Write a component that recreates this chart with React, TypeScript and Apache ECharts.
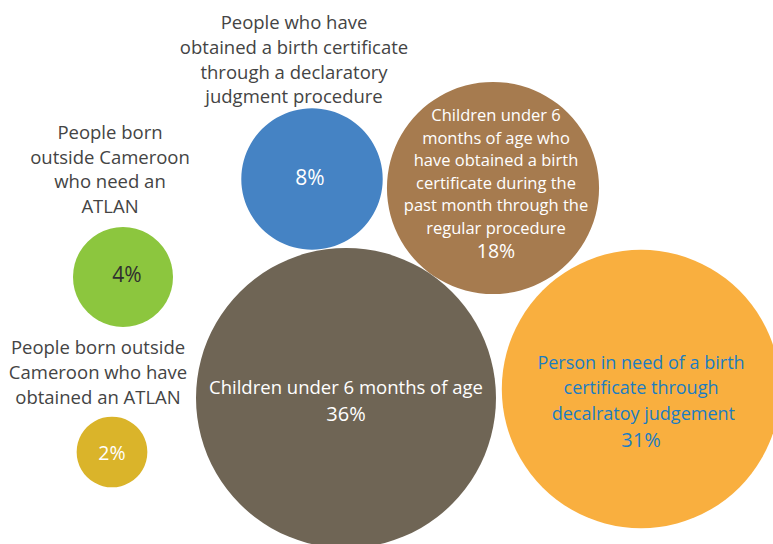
import React, { useEffect, useRef } from "react";
import * as echarts from "echarts";

// Bubble categories
const names = [
  "People born outside\nCameroon who have\nobtained an ATLAN",
  "People born\noutside Cameroon\nwho need an\nATLAN",
  "People who have\nobtained a birth certificate\nthrough a declaratory\njudgment procedure",
  "Children under 6\nmonths of age who\nhave obtained a birth\ncertificate during the\npast month through the\nregular procedure",
  "Person in need of a birth\ncertificate through\n decalratoy judgement",
  "Children under 6 months of age",
];
// Percent values
const values = [2, 4, 8, 18, 31, 36];
// Bubble layout coordinates (packed-bubble positions, chart units)
const xPos = [112, 123, 312, 493, 641, 346];
const yPos = [452, 277, 179, 188, 389, 398];
// Whether the name is written outside (above) the bubble
const outside = [true, true, true, false, false, false];

const colors = ["#dab42a", "#8cc63e", "#4583c4", "#a67b4f", "#f9af3f", "#6f6555"];
const innerText = ["#ffffff", "#2f2f2f", "#ffffff", "#ffffff", "#1b7dc2", "#ffffff"];
const innerFont = [17, 19, 19, 16.5, 18, 18.5];
const pctFont = [19.5, 21, 21, 19.5, 20, 20];
const innerLine = [22, 24, 24, 22.5, 25.5, 26];
const innerOffset = [[0, 0], [4, -3], [-2, -2], [3, -5], [0, 12], [0, 2]];
const outerOffset = [[-14, -4], [-13, -5], [-18, 4], [0, 0], [0, 0], [0, 0]];

const SCALE = 25; // radius = SCALE * sqrt(value)

export default function App() {
  const ref = useRef<HTMLDivElement>(null);
  useEffect(() => {
    if (!ref.current) return;
    const chart = echarts.init(ref.current, null, { renderer: "svg" });
    const size = (v: number) => 2 * SCALE * Math.sqrt(v);

    const bubbleData = values.map((v, i) => ({
      name: names[i],
      value: [xPos[i], yPos[i], v],
      symbolSize: size(v),
      itemStyle: { color: colors[i], opacity: 1 },
      label: {
        show: true,
        position: "inside",
        formatter: outside[i] ? `{p|${v}%}` : `${names[i]}\n{p|${v}%}`,
        color: innerText[i],
        fontSize: innerFont[i],
        lineHeight: innerLine[i],
        fontFamily: "Open Sans",
        align: "center",
        offset: innerOffset[i],
        rich: {
          p: {
            fontSize: pctFont[i],
            lineHeight: innerLine[i] + 2,
            color: innerText[i],
            fontFamily: "Open Sans",
            align: "center",
          },
        },
      },
    }));

    const outerData = values
      .map((v, i) => ({ v, i }))
      .filter((d) => outside[d.i])
      .map(({ v, i }) => ({
        name: names[i],
        value: [xPos[i], yPos[i], v],
        symbolSize: size(v),
        itemStyle: { color: "rgba(0,0,0,0)", opacity: 1 },
        label: {
          show: true,
          position: "top",
          distance: 4,
          formatter: names[i],
          color: "#444444",
          fontSize: 18.5,
          lineHeight: 24.7,
          fontFamily: "Open Sans",
          align: "center",
          offset: outerOffset[i],
        },
      }));

    chart.setOption({
      animation: false,
      backgroundColor: "#ffffff",
      grid: { left: 0, right: 0, top: 0, bottom: 0 },
      xAxis: { type: "value", min: 0, max: 773, show: false },
      yAxis: { type: "value", min: 0, max: 544, inverse: true, show: false },
      series: [
        {
          type: "scatter",
          clip: true,
          data: bubbleData,
          emphasis: { disabled: true },
        },
        {
          type: "scatter",
          clip: false,
          silent: true,
          data: outerData,
          emphasis: { disabled: true },
        },
      ],
    });
    return () => chart.dispose();
  }, []);
  return (
    <div
      ref={ref}
      style={{ position: "fixed", left: 0, top: 0, width: 773, height: 544 }}
    />
  );
}
